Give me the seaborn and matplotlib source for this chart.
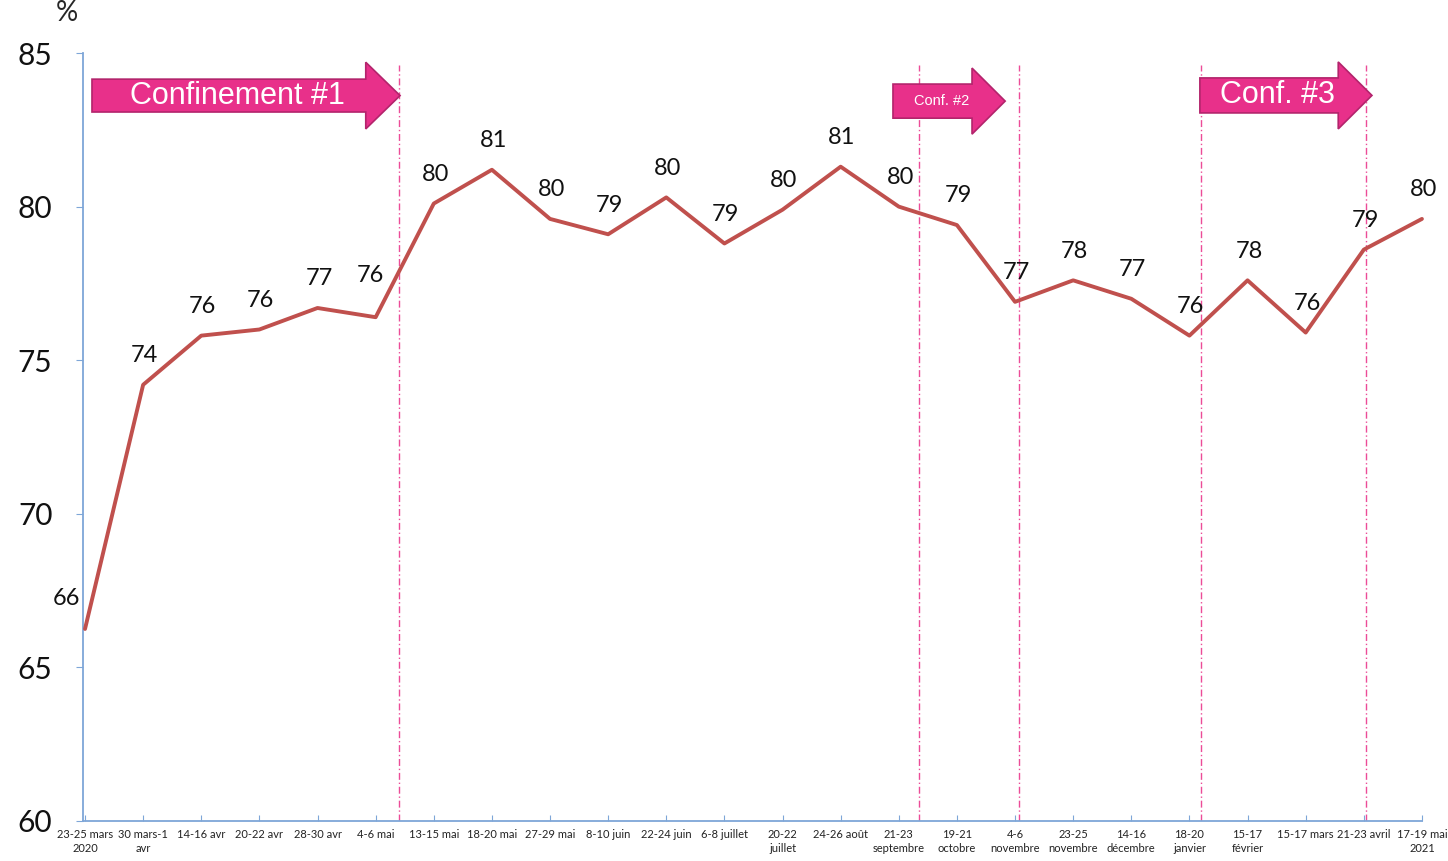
import matplotlib
matplotlib.use("Agg")
import matplotlib.pyplot as plt
import numpy as np
import pandas as pd
import seaborn as sns
from matplotlib.patches import Polygon

# Survey waves (x axis)
waves = [
    "23-25 mars\n2020", "30 mars-1\navr", "14-16 avr", "20-22 avr", "28-30 avr",
    "4-6 mai", "13-15 mai", "18-20 mai", "27-29 mai", "8-10 juin", "22-24 juin",
    "6-8 juillet", "20-22\njuillet", "24-26 août", "21-23\nseptembre",
    "19-21\noctobre", "4-6\nnovembre", "23-25\nnovembre", "14-16\ndécembre",
    "18-20\njanvier", "15-17\nfévrier", "15-17 mars", "21-23 avril",
    "17-19 mai\n2021",
]
# Percentages
values = [66.25, 74.2, 75.8, 76.0, 76.7, 76.4, 80.1, 81.2, 79.6, 79.1, 80.3,
          78.8, 79.9, 81.3, 80.0, 79.4, 76.9, 77.6, 77.0, 75.8, 77.6, 75.9,
          78.6, 79.6]
# Rounded labels shown above the points
point_labels = [66, 74, 76, 76, 77, 76, 80, 81, 80, 79, 80, 79, 80, 81, 80, 79,
                77, 78, 77, 76, 78, 76, 79, 80]

# Lockdown markers (x in wave index units)
period_lines = [5.40, 14.35, 16.07, 19.20, 22.03]
arrow_texts = ["Confinement #1", "Conf. #2", "Conf. #3"]
arrow_sizes = [22, 10.5, 22]
arrow_text_x = [2.62, 14.74, 20.52]

df = pd.DataFrame({"idx": np.arange(len(waves)), "pct": values})

sns.set_style("white")
plt.rcParams["font.family"] = ["Lato", "DejaVu Sans"]

fig = plt.figure(figsize=(14.48, 8.61), dpi=100)
ax = fig.add_axes([0.0573, 0.0465, 0.9247, 0.8919])

pink = "#E8308A"
for xv in period_lines:
    ax.plot([xv, xv], [60, 84.6], color="#EC4C98", lw=1.0,
            ls=(0, (5, 2, 1, 2)), zorder=1)

sns.lineplot(data=df, x="idx", y="pct", color="#C0504D", linewidth=2.8,
             ax=ax, zorder=3, clip_on=False)

# point labels
for i, (v, lab) in enumerate(zip(values, point_labels)):
    dx, dy = 1, 21
    if i == 0:
        dx, dy = -13, 22
    elif i == 5:
        dx, dy = -4, 30
    ax.annotate(str(lab), (i, v), xytext=(dx, dy), textcoords="offset points",
                ha="center", va="center", fontsize=17, color="#111111",
                zorder=4)


# lockdown arrows
def arrow_poly(x0, xb, xt, yb0, yb1, yh0, yh1):
    ym = (yb0 + yb1) / 2
    return [(x0, yb0), (xb, yb0), (xb, yh0), (xt, ym), (xb, yh1), (xb, yb1),
            (x0, yb1)]


arrow_specs = [
    (0.12, 4.83, 5.42, 84.15, 83.08, 84.70, 82.53),
    (13.90, 15.26, 15.83, 83.99, 82.88, 84.51, 82.36),
    (19.18, 21.56, 22.14, 84.19, 83.05, 84.71, 82.53),
]
for spec, txt, fs, tx in zip(arrow_specs, arrow_texts, arrow_sizes,
                             arrow_text_x):
    pts = arrow_poly(*spec)
    ax.add_patch(Polygon(pts, closed=True, facecolor=pink, edgecolor="#B3246C",
                         lw=1.2, zorder=5, clip_on=False))
    ax.text(tx, (spec[3] + spec[4]) / 2, txt, ha="center", va="center",
            fontsize=fs, color="white", family=["Liberation Sans"], zorder=6)

ax.set_xlim(-0.035, 23.0)
ax.set_ylim(60, 85)
ax.set_yticks([60, 65, 70, 75, 80, 85])
ax.set_xticks(range(len(waves)))
ax.set_xticklabels(waves, fontsize=8, linespacing=1.3, color="#222222")
ax.set_xlabel("")
ax.set_ylabel("")

for s in ["top", "right"]:
    ax.spines[s].set_visible(False)
for s in ["left", "bottom"]:
    ax.spines[s].set_color("#7EA6D8")
    ax.spines[s].set_linewidth(1.3)

ax.tick_params(axis="y", direction="out", length=5, color="#7EA6D8",
               labelsize=21.5, pad=17, left=True, labelcolor="#111111")
ax.tick_params(axis="x", direction="in", length=4, color="#7EA6D8",
               pad=6, bottom=True)

fig.text(0.046, 1.0, "%", fontsize=20, ha="center", va="top")

fig.savefig("out.png", dpi=100)
plt.close(fig)
